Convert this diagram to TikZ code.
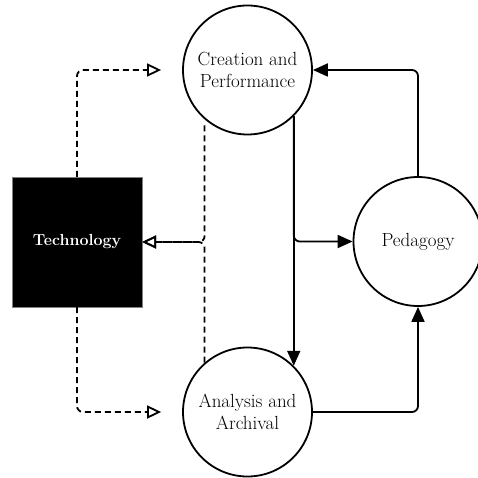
\documentclass[tikz,border=0pt]{standalone}
\usepackage{tikz}
\usetikzlibrary{calc,shapes,arrows.meta}

\tikzset{
  area/.style = {circle, draw = black, line width = 1.8pt, fill = white, minimum size = 129pt, inner sep = 0pt, align = center, font = \fontsize{19}{22}\selectfont},
  techbox/.style = {rectangle, draw = gray, fill = black, minimum size = 130pt, inner sep = 0pt, text = white, font = \fontsize{16}{19}\selectfont\bfseries},
  feed/.style = {line width = 1.8pt, rounded corners = 6pt, -{Triangle[length=15pt,width=13pt]}},
  support/.style = {line width = 1.8pt, dash pattern = on 6pt off 4pt, rounded corners = 6pt, -{Triangle[open,length=14pt,width=13pt]}}
}

\begin{document}
\begin{tikzpicture}[x=1pt,y=-1pt]
  \useasboundingbox (0,0) rectangle (477,478);

  \node [techbox] (tech) at (77,242) {Technology};
  \node [area] (create) at (247.5,70) {Creation and\\Performance};
  \node [area] (archive) at (247.5,412) {Analysis and\\Archival};
  \node [area] (teach) at (418,241.5) {Pedagogy};

  % dashed links out of and into technology
  \draw [support, shorten >= 21pt] (tech.north) |- (create.west);
  \draw [support, shorten >= 21pt] (tech.south) |- (archive.west);
  \draw [support, shorten <= 6pt] (create.-131) |- (tech.east);
  \draw [support] (archive.131) |- (tech.east);

  % solid cycle
  \draw [feed] (teach.north) |- (create.east);
  \draw [feed] (create.-45) -- (archive.45);
  \draw [feed] (create.-45) |- (teach.west);
  \draw [feed] (archive.east) -| (teach.south);
\end{tikzpicture}
\end{document}
